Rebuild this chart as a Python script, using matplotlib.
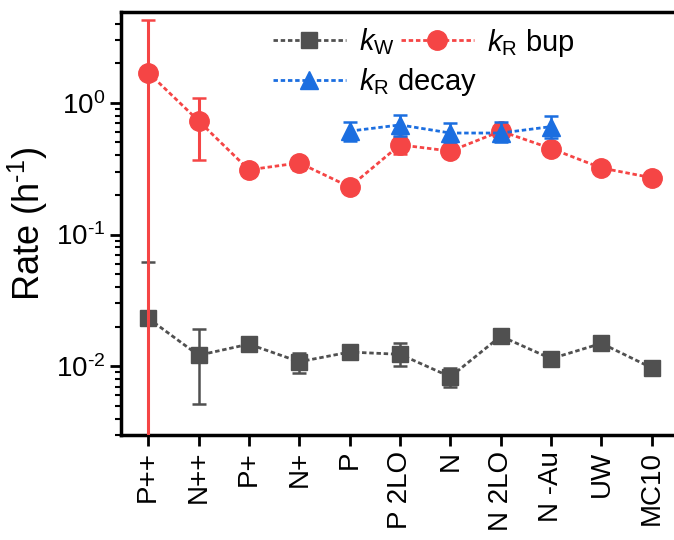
import numpy as np
import matplotlib
matplotlib.use("Agg")
import matplotlib.pyplot as plt
from matplotlib.lines import Line2D
from matplotlib.ticker import FuncFormatter

plt.rcParams["font.family"] = ["Liberation Sans", "DejaVu Sans"]
plt.rcParams["mathtext.fontset"] = "custom"
plt.rcParams["mathtext.rm"] = "Liberation Sans"
plt.rcParams["mathtext.it"] = "Liberation Sans:italic"
plt.rcParams["axes.unicode_minus"] = False

# 样品名称
samples = ["P++", "N++", "P+", "N+", "P", "P 2LO", "N", "N 2LO", "N -Au", "UW", "MC10"]

# k_W (灰色方块)
kw = [0.0231, 0.0121, 0.0147, 0.0108, 0.0128, 0.0123, 0.0083, 0.0169, 0.0114, 0.0149, 0.0097]
kw_lo = [0.0001, 0.0052, 0.0140, 0.0089, 0.0122, 0.0100, 0.0069, 0.0160, 0.0108, 0.0142, 0.0092]
kw_hi = [0.062, 0.0190, 0.0154, 0.0125, 0.0134, 0.0149, 0.0097, 0.0178, 0.0120, 0.0156, 0.0102]

# k_R bup (红色圆点)
kr_bup = [1.70, 0.73, 0.31, 0.35, 0.23, 0.48, 0.43, 0.61, 0.45, 0.32, 0.27]
kr_bup_lo = [0.0001, 0.37, 0.29, 0.31, 0.215, 0.41, 0.39, 0.57, 0.42, 0.30, 0.255]
kr_bup_hi = [4.28, 1.09, 0.33, 0.39, 0.245, 0.55, 0.47, 0.65, 0.48, 0.34, 0.285]

# k_R decay (蓝色三角), 只有 P 到 N -Au
decay_idx = [4, 5, 6, 7, 8]
kr_decay = [0.61, 0.68, 0.59, 0.59, 0.66]
kr_decay_lo = [0.51, 0.56, 0.50, 0.50, 0.54]
kr_decay_hi = [0.72, 0.81, 0.70, 0.71, 0.80]

gray = "#505050"
red = "#f54545"
blue = "#1b6ee0"
ls = (0, (1.6, 1.0))

fig = plt.figure(figsize=(6.74, 5.4), dpi=100)
ax = fig.add_axes([121 / 674, 1 - 435 / 540, 1 - 121 / 674, (435 - 12) / 540])

x = np.arange(len(samples))


def yerr(v, lo, hi):
    v = np.array(v)
    return [v - np.array(lo), np.array(hi) - v]


ax.errorbar(x, kw, yerr=yerr(kw, kw_lo, kw_hi), color=gray, ls=ls, lw=2,
            marker="s", ms=11.5, elinewidth=1.8, capsize=5, capthick=1.8, zorder=2)
ax.errorbar(x, kr_bup, yerr=yerr(kr_bup, kr_bup_lo, kr_bup_hi), color=red, ls=ls, lw=2,
            marker="o", ms=14, elinewidth=2.2, capsize=5, capthick=1.8, zorder=3)
ax.errorbar(decay_idx, kr_decay, yerr=yerr(kr_decay, kr_decay_lo, kr_decay_hi), color=blue, ls=ls, lw=2,
            marker="^", ms=13, elinewidth=1.8, capsize=5, capthick=1.8, zorder=4)

ax.set_yscale("log")
ax.set_ylim(0.003, 4.9)
ax.set_xlim(-0.54, 10.44)
ax.set_xticks(x)
ax.set_xticklabels(samples, rotation=90, fontsize=20)
ax.yaxis.set_major_formatter(FuncFormatter(
    lambda v, p: "10$^{\\text{%s}}$" % ("%d" % round(np.log10(v)))))
ax.set_ylabel("Rate (h$^{\\text{-1}}$)", fontsize=26, labelpad=4)
ax.tick_params(axis="y", labelsize=20)
ax.tick_params(which="major", direction="out", length=8, width=2)
ax.tick_params(which="minor", direction="out", length=4, width=1.5)
ax.tick_params(axis="x", which="minor", bottom=False)
ax.spines["right"].set_visible(False)
for s in ["left", "bottom", "top"]:
    ax.spines[s].set_linewidth(2.5)

# 图例只显示线和标记, 不带误差棒
h_w = Line2D([], [], color=gray, ls=ls, lw=2, marker="s", ms=11.5)
h_bup = Line2D([], [], color=red, ls=ls, lw=2, marker="o", ms=14)
h_dec = Line2D([], [], color=blue, ls=ls, lw=2, marker="^", ms=13)
ax.legend([h_w, h_dec, h_bup], ["$k_\\mathrm{W}$", "$k_\\mathrm{R}$ decay", "$k_\\mathrm{R}$ bup"],
          ncol=2, frameon=False, fontsize=21, loc="upper left", bbox_to_anchor=(0.248, 1.0),
          handlelength=2.5, columnspacing=-2.6, handletextpad=0.45, labelspacing=0.3,
          borderaxespad=0.1)

fig.savefig("out.png", dpi=100)
